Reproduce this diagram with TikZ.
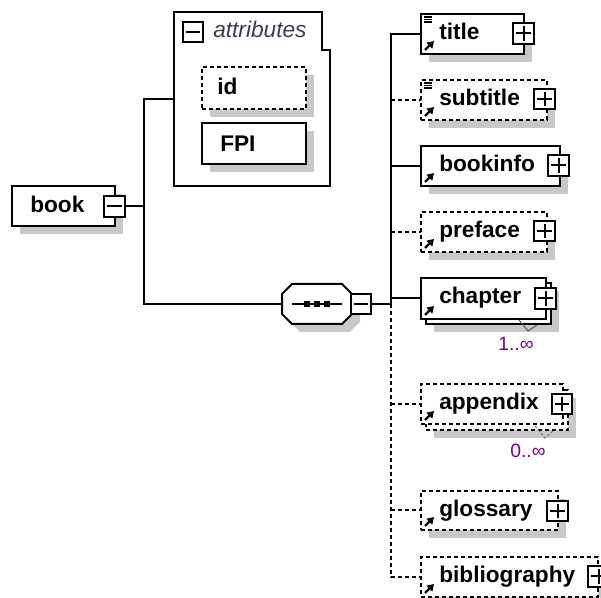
\documentclass[tikz,border=0pt]{standalone}
\usepackage{fontspec}
\setmainfont{Liberation Sans}
\usetikzlibrary{fit,shadows,arrows.meta}
\definecolor{shadowgray}{RGB}{200,200,200}
\definecolor{multcol}{RGB}{128,0,128}
\definecolor{attrtext}{RGB}{60,60,80}

\tikzset{
  outline/.style={draw=black, line width=1.5pt},
  dashline/.style={dash pattern=on 3pt off 2.25pt},
  shadowed/.style={drop shadow={shadow xshift=6pt, shadow yshift=-6pt, fill=shadowgray, opacity=1}},
  plainbox/.style={outline, fill=white, inner sep=0pt, outer sep=0pt},
  elembox/.style={plainbox, shadowed},
  optbox/.style={elembox, dashline},
  pmbox/.style={draw=black, line width=1.5pt, fill=white, inner sep=0pt, outer sep=0pt},
  plusbox/.style={pmbox, path picture={
      \draw[line width=1.5pt]
        ([xshift=2.6pt]path picture bounding box.west) -- ([xshift=-2.6pt]path picture bounding box.east)
        ([yshift=-2.6pt]path picture bounding box.north) -- ([yshift=2.6pt]path picture bounding box.south);}},
  minusbox/.style={pmbox, path picture={
      \draw[line width=1.5pt]
        ([xshift=2.6pt]path picture bounding box.west) -- ([xshift=-2.6pt]path picture bounding box.east);}},
  elemname/.style={font=\fontsize{17}{20}\selectfont\bfseries, inner sep=0pt, anchor=base west},
  mult/.style={font=\fontsize{14.5}{17}\selectfont, text=multcol, inner sep=0pt, anchor=base west},
  conn/.style={line width=1.5pt},
  dconn/.style={conn, dashline},
  refarrow/.style={line width=1.8pt, -{Triangle[length=5pt,width=6pt]}},
  mixedicon/.style={line width=0.9pt, black},
}

\begin{document}
\begin{tikzpicture}[x=0.75pt, y=-0.75pt]
\useasboundingbox (0,0) rectangle (601,598);
\clip (0,0) rectangle (601,598);

% ---- root element ----
\node[elembox, fit={(12,186) (115,226)}] (book) {};
\node[elemname] (booktxt) at (30,213) {book};
\node[minusbox, fit={(104,196) (125,217)}] (bookm) {};

% ---- attribute group ----
\node[inner sep=0pt, outer sep=0pt, fit={(174,12) (330,186)}] (attr) {};
\draw[outline] (attr.south west) -- (attr.north west) -- ([xshift=-6pt]attr.north east)
  -- ++(0,38) -| (attr.south east) -- cycle;
\node[minusbox, fit={(183,22) (203,42)}] (attrm) {};
\node[font=\fontsize{17}{20}\selectfont\itshape, text=attrtext, inner sep=0pt, anchor=base west]
  (attrtxt) at (213,38) {attributes};
\node[optbox, fit={(202,67) (306,109)}] (id) {};
\node[elemname] (idtxt) at (217,95) {id};
\node[elembox, fit={(202,123) (306,164)}] (fpi) {};
\node[elemname] (fpitxt) at (220,152) {FPI};

% ---- sequence compositor ----
\node[inner sep=0pt, outer sep=0pt, fit={(282,284) (352,324)}] (seq) {};
\filldraw[outline, fill=white, shadowed]
  ([xshift=7.5pt]seq.north west) -- ([xshift=-7.5pt]seq.north east)
  -- ([yshift=-7.5pt]seq.north east) -- ([yshift=7.5pt]seq.south east)
  -- ([xshift=-7.5pt]seq.south east) -- ([xshift=7.5pt]seq.south west)
  -- ([yshift=7.5pt]seq.south west) -- ([yshift=-7.5pt]seq.north west) -- cycle;
\draw[line width=1.5pt] ([xshift=7.5pt]seq.west) -- ([xshift=-7.5pt]seq.east);
\foreach \dx in {-10,0,10}
  \fill ([xshift=\dx*0.75pt]seq.center) +(-3,-3) rectangle +(3,3);
\node[minusbox, fit={(351,294) (371,314)}] (seqm) {};
\coordinate (trunk) at (391,304);

% ---- child elements ----
\node[elembox, fit={(421,14) (524,54)}] (title) {};
\node[elemname] (titletxt) at (439,40) {title};
\node[plusbox, fit={(513,23) (534,44)}] (titlep) {};

\node[optbox, fit={(421,80) (547,120)}] (subtitle) {};
\node[elemname] (subtitletxt) at (439,106) {subtitle};
\node[plusbox, fit={(534,89) (555,109)}] (subtitlep) {};

\node[elembox, fit={(421,146) (560,186)}] (bookinfo) {};
\node[elemname] (bookinfotxt) at (439,172) {bookinfo};
\node[plusbox, fit={(548,155) (569,176)}] (bookinfop) {};

\node[optbox, fit={(421,212) (547,252)}] (preface) {};
\node[elemname] (prefacetxt) at (439,238) {preface};
\node[plusbox, fit={(534,221) (555,241)}] (prefacep) {};

\node[elembox, fit={(426,283) (551,324)}] (chapterb) {};
\node[plainbox, fit={(421,278) (546,319)}] (chapter) {};
\node[elemname] (chaptertxt) at (439,304) {chapter};
\node[plusbox, fit={(535,288) (556,309)}] (chapterp) {};
\draw[line width=0.75pt, black!65] (519,320) -- (528,331) -- (537,325);
\node[mult] (chaptermult) at (498,351) {1..∞};

\node[optbox, fit={(426,390) (568,430)}] (appendixb) {};
\node[plainbox, dashline, fit={(421,384) (563,424)}] (appendix) {};
\node[elemname] (appendixtxt) at (439,410) {appendix};
\node[plusbox, fit={(552,394) (572,414)}] (appendixp) {};
\draw[line width=0.75pt, black!55, dash pattern=on 2pt off 1.5pt] (535,426) -- (545,438) -- (553,431);
\node[mult] (appendixmult) at (510,458) {0..∞};

\node[optbox, fit={(421,491) (558,530)}] (glossary) {};
\node[elemname] (glossarytxt) at (439,517) {glossary};
\node[plusbox, fit={(547,501) (568,521)}] (glossaryp) {};

\node[optbox, fit={(421,557) (598,597)}] (bibliography) {};
\node[elemname] (bibliographytxt) at (439,583) {bibliography};
\node[plusbox, fit={(588,566) (609,587)}] (bibliographyp) {};

% ---- icons on the element boxes ----
\foreach \n in {title,subtitle}
  \foreach \dy in {3,5.5,8}
    \draw[mixedicon] ([shift={(3,\dy)}]\n.north west) -- ++(8,0);
\foreach \n in {title,subtitle,bookinfo,preface,chapter,appendix,glossary,bibliography}
  \draw[refarrow] ([shift={(4,-4)}]\n.south west) -- ++(9,-9);

% ---- connectors ----
\draw[conn] (bookm.east) -- ++(19,0) coordinate (fork);
\draw[conn] (attr.west) -| (fork);
\draw[conn] (fork) |- (seq.west);
\draw[conn] (seqm.east) -- (trunk);
\draw[conn] (title.west) -| (trunk);
\draw[conn] (trunk |- bookinfo.west) -- (bookinfo.west);
\draw[conn] (trunk |- chapter.west) -- (chapter.west);
\draw[dconn] (trunk) |- (bibliography.west);
\foreach \n in {subtitle,preface,appendix,glossary}
  \draw[dconn] (trunk |- \n.west) -- (\n.west);
\end{tikzpicture}
\end{document}
